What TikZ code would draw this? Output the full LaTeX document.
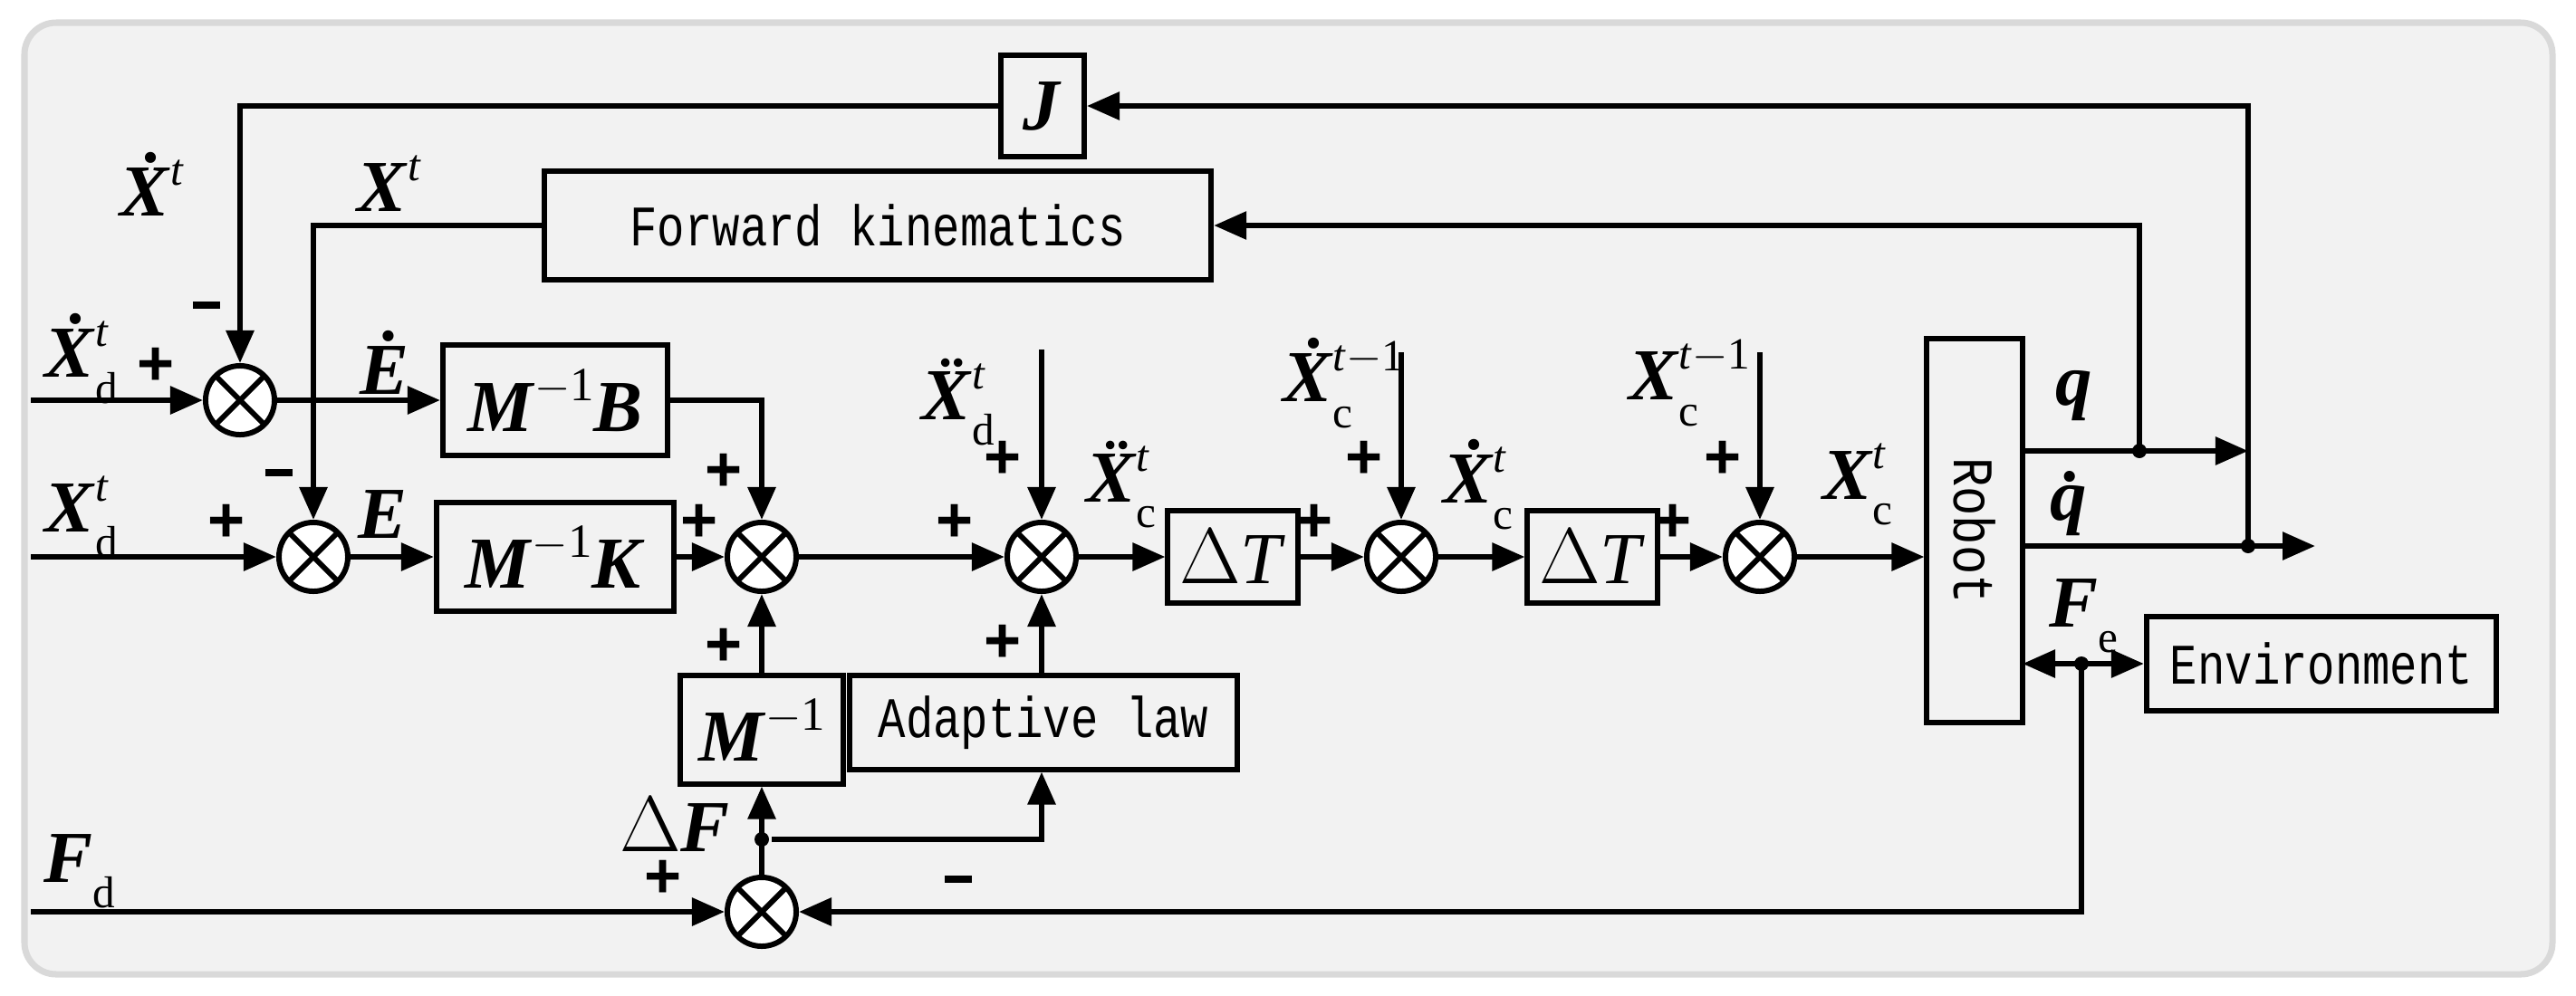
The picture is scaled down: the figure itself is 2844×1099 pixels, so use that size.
\documentclass[tikz,border=0pt]{standalone}
\usepackage{fontspec}
\setmainfont{Liberation Serif}
\newfontfamily\mono{Liberation Mono}
\newfontfamily\sans{Liberation Sans}
\usetikzlibrary{arrows.meta,calc}
\newcommand{\bi}[1]{\textbf{\textit{#1}}}
\newcommand{\sx}[3]{#1\rlap{\raisebox{0.42em}{\fontsize{14}{14}\selectfont #2}}\raisebox{-0.35em}{\fontsize{14}{14}\selectfont #3}}
\begin{document}
\begin{tikzpicture}[x=0.01cm,y=-0.01cm,
  line width=1.7pt,
  >={Triangle[length=0.36cm,width=0.3cm]},
  box/.style={draw,rectangle,inner sep=0pt},
  btxt/.style={font=\mono\fontsize{18}{18}\selectfont},
  lab/.style={font=\fontsize{23}{23}\selectfont,inner sep=0pt},
  sg/.style={font=\sans\bfseries\fontsize{20}{20}\selectfont,inner sep=0pt},
  sum/.style={draw,circle,minimum size=0.76cm,inner sep=0pt,fill=white,
    path picture={\draw ($(path picture bounding box.center)+(45:0.4cm)$)--($(path picture bounding box.center)+(225:0.4cm)$)
                        ($(path picture bounding box.center)+(135:0.4cm)$)--($(path picture bounding box.center)+(315:0.4cm)$);}},
  dot/.style={circle,fill,minimum size=0.16cm,inner sep=0pt}]
\useasboundingbox (0,0) rectangle (2844,1099);
\draw[line width=2pt,draw=black!15,fill=black!5,rounded corners=0.35cm] (27,25) rectangle (2818,1076);

% boxes
\node[box,minimum width=0.92cm,minimum height=1.12cm,lab] (J) at (1151,117) {\bi{J}};
\node[box,minimum width=7.36cm,minimum height=1.2cm,btxt] (FK) at (969,249) {\scalebox{0.8}[1]{Forward kinematics}};
\node[box,minimum width=2.48cm,minimum height=1.21cm,lab] (MB) at (613,442) {\bi{M}\raisebox{0.42em}{\fontsize{15}{15}\selectfont $-$1}\bi{B}};
\node[box,minimum width=2.62cm,minimum height=1.19cm,lab] (MK) at (613,615) {\bi{M}\raisebox{0.42em}{\fontsize{15}{15}\selectfont $-$1}\bi{K}};
\node[box,minimum width=1.43cm,minimum height=1.02cm,lab] (DT1) at (1361,615) {$\Delta$\textit{T}};
\node[box,minimum width=1.43cm,minimum height=1.02cm,lab] (DT2) at (1758,615) {$\Delta$\textit{T}};
\node[box,minimum width=1.05cm,minimum height=4.24cm,btxt] (R) at (2180,586) {};
\node[btxt,rotate=-90] at (2180,586) {\scalebox{0.85}[1]{Robot}};
\node[box,minimum width=3.86cm,minimum height=1.03cm,btxt] (E) at (2563,733) {\scalebox{0.8}[1]{Environment}};
\node[box,minimum width=1.79cm,minimum height=1.19cm,lab] (Mi) at (841,806) {\bi{M}\raisebox{0.42em}{\fontsize{15}{15}\selectfont $-$1}};
\node[box,minimum width=4.28cm,minimum height=1.03cm,btxt] (AL) at (1152,798) {\scalebox{0.8}[1]{Adaptive law}};

% sums
\node[sum] (s1) at (265,442) {};
\node[sum] (s2) at (346,615) {};
\node[sum] (s3) at (841,615) {};
\node[sum] (s4) at (1150,615) {};
\node[sum] (s5) at (1547,615) {};
\node[sum] (s6) at (1943,615) {};
\node[sum] (s7) at (841,1007) {};

% inputs
\coordinate (i1) at (34,442);
\coordinate (i2) at (34,615);
\coordinate (i3) at (34,1007);
\coordinate (i4) at (1150,386);
\coordinate (i5) at (1547,389);
\coordinate (i6) at (1943,389);
\draw[->] (i1) -- (s1);
\draw[->] (i2) -- (s2);
\draw[->] (i3) -- (s7);
\draw[->] (i4) -- (s4);
\draw[->] (i5) -- (s5);
\draw[->] (i6) -- (s6);

% main path
\draw[->] (s1) -- (MB);
\draw[->] (s2) -- (MK);
\draw[->] (MK) -- (s3);
\draw[->] (MB.east) -| (s3.north);
\draw[->] (s3) -- (s4);
\draw[->] (s4) -- (DT1);
\draw[->] (DT1) -- (s5);
\draw[->] (s5) -- (DT2);
\draw[->] (DT2) -- (s6);
\draw[->] (s6) -- (R.west |- s6);
\draw[->] (Mi.north) -- (s3.south);
\draw[->] (AL.north -| s4) -- (s4.south);

% feedback
\draw[->] (FK.west) -| (s2.north);
\draw[->] (J.west) -| (s1.north);
\node[dot] (d1) at (841,927) {};
\draw[->] (s7.north) -- (Mi.south);
\draw[->] (d1) -| (AL.south -| s4);

\coordinate (q0) at (2233,498);
\coordinate (qe) at (2482,498);
\node[dot] (dq) at (2362,498) {};
\draw[->] (q0) -- (qe);
\draw[->] (dq.center) -- (2362,249) -- (FK.east);
\coordinate (qd0) at (2233,603);
\coordinate (qde) at (2556,603);
\node[dot] (dqd) at (2482,603) {};
\draw[->] (qd0) -- (qde);
\draw[->] (dqd.center) -- (2482,117) -- (J.east);
\coordinate (f0) at (2233,733);
\node[dot] (df) at (2298,733) {};
\draw[<->] (f0) -- (E.west);
\draw[->] (df.center) |- (s7.east);

% labels
\node[lab] at (168,203) {\bi{\.X}\raisebox{0.42em}{\fontsize{14}{14}\selectfont\textit{t}}};
\node[lab] at (430,203) {\bi{X}\raisebox{0.42em}{\fontsize{14}{14}\selectfont\textit{t}}};
\node[lab] at (90,396) {\sx{\bi{\.X}}{\textit{t}}{d}};
\node[lab] at (90,571) {\sx{\bi{X}}{\textit{t}}{d}};
\node[lab] at (424,400) {\bi{\.E}};
\node[lab] at (422,568) {\bi{E}};
\node[lab] at (1058,444) {\sx{\bi{\"X}}{\textit{t}}{d}};
\node[lab] at (1238,535) {\sx{\bi{\"X}}{\textit{t}}{c}};
\node[lab] at (1455,423) {\sx{\bi{\.X}}{\textit{t}$-$1}{c}};
\node[lab] at (1632,535) {\sx{\bi{\.X}}{\textit{t}}{c}};
\node[lab] at (1837,423) {\sx{\bi{X}}{\textit{t}$-$1}{c}};
\node[lab] at (2051,535) {\sx{\bi{X}}{\textit{t}}{c}};
\node[lab] at (2290,437) {\bi{q}};
\node[lab] at (2290,556) {\bi{\.q}};
\node[lab] at (2300,680) {\sx{\bi{F}}{}{e}};
\node[lab] at (745,911) {$\Delta$\bi{F}};
\node[lab] at (88,962) {\sx{\bi{F}}{}{d}};

\node[sg] at (228,337) {\rule{0.3cm}{0.08cm}};
\node[sg] at (172,405) {+};
\node[sg] at (308,522) {\rule{0.3cm}{0.08cm}};
\node[sg] at (250,578) {+};
\node[sg] at (799,522) {+};
\node[sg] at (772,578) {+};
\node[sg] at (1054,578) {+};
\node[sg] at (1107,508) {+};
\node[sg] at (799,715) {+};
\node[sg] at (1107,711) {+};
\node[sg] at (732,971) {+};
\node[sg] at (1058,971) {\rule{0.3cm}{0.08cm}};
\node[sg] at (1506,508) {+};
\node[sg] at (1451,578) {+};
\node[sg] at (1902,508) {+};
\node[sg] at (1847,578) {+};
\end{tikzpicture}
\end{document}
